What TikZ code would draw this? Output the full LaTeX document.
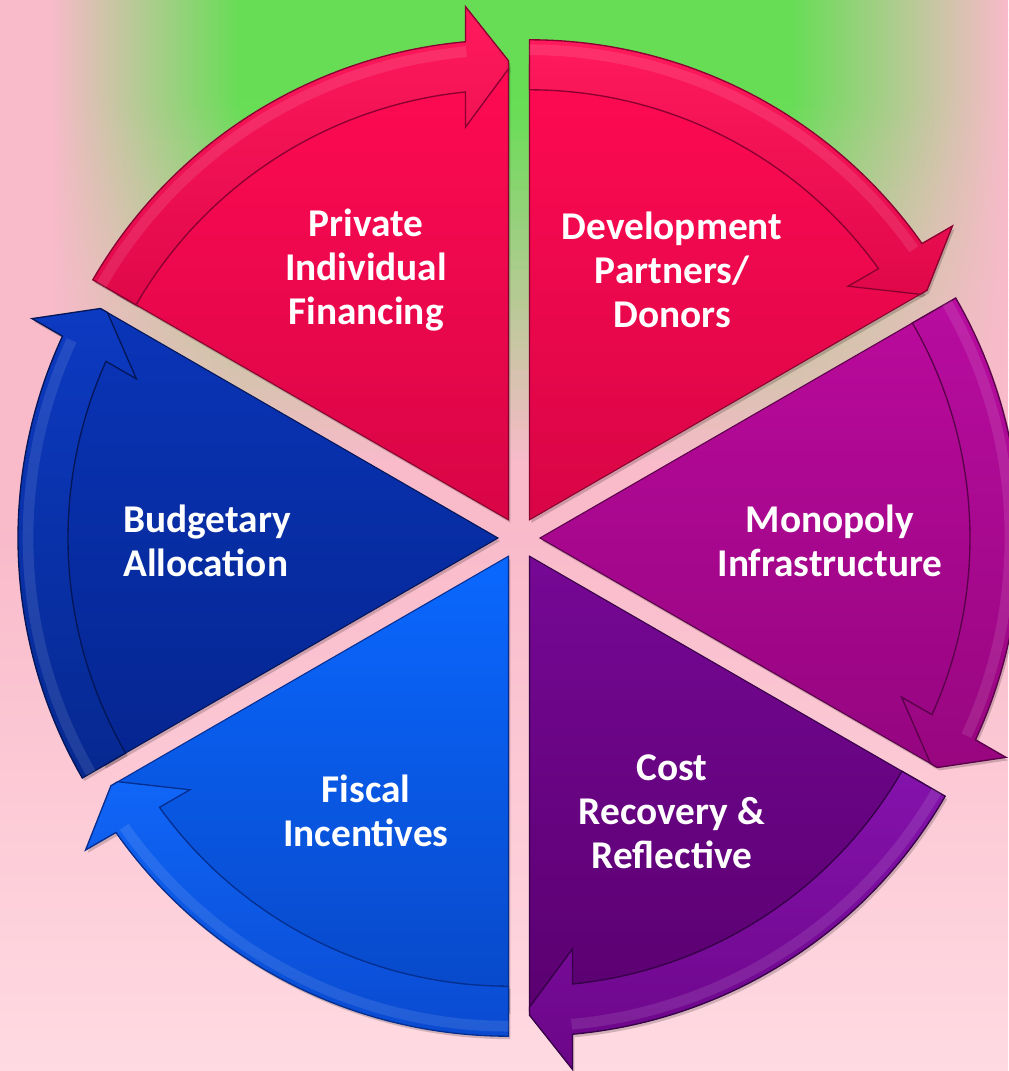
\documentclass[tikz,border=0pt]{standalone}
\usepackage{fontspec}
\setmainfont{Carlito}
\definecolor{grn}{HTML}{66DD55}
\definecolor{pnk}{HTML}{F9BACA}
\definecolor{pnkb}{HTML}{FFDAE2}
\definecolor{redT}{HTML}{FF0A52}\definecolor{redB}{HTML}{D80546}
\definecolor{redBT}{HTML}{FF1A5C}\definecolor{redBB}{HTML}{E0084A}\definecolor{redD}{HTML}{8A0030}
\definecolor{magT}{HTML}{BA0A9C}\definecolor{magB}{HTML}{950580}
\definecolor{magBT}{HTML}{B80CA0}\definecolor{magBB}{HTML}{98067F}\definecolor{magD}{HTML}{5A004A}
\definecolor{purT}{HTML}{760895}\definecolor{purB}{HTML}{5A0070}
\definecolor{purBT}{HTML}{8412AC}\definecolor{purBB}{HTML}{6C0688}\definecolor{purD}{HTML}{360048}
\definecolor{bluT}{HTML}{0A68FF}\definecolor{bluB}{HTML}{0848C8}
\definecolor{bluBT}{HTML}{1066F8}\definecolor{bluBB}{HTML}{0A4AD0}\definecolor{bluD}{HTML}{042E90}
\definecolor{dbuT}{HTML}{0A35B8}\definecolor{dbuB}{HTML}{052590}
\definecolor{dbuBT}{HTML}{0C3AC2}\definecolor{dbuBB}{HTML}{06288F}\definecolor{dbuD}{HTML}{021658}
\tikzset{
  lbl/.style={text=white,font=\bfseries\fontsize{29.5}{33}\selectfont,align=center,inner sep=0pt},
}
\newcommand\bodypath[1]{\path[#1] (0,0) -- (\ps:455) arc[start angle=\ps,end angle=\pe,radius=455] -- cycle;}
\newcommand\arrpath[1]{\path[#1] (\ps:480) arc[start angle=\ps,end angle=\pbo,radius=480] -- (\obx,\oby) -- (\pe:459) -- (\pe:451) -- (\ibx,\iby) -- (\pbi:430) arc[start angle=\pbi,end angle=\ps,radius=430] -- cycle;}
\newcommand\drawsector[4]{% #1 bisector, #2 body prefix, #3 band prefix, #4 dark
  \pgfmathsetmacro\tx{21*cos(#1)}
  \pgfmathsetmacro\ty{21*sin(#1)}
  \pgfmathsetmacro\ps{#1+30}
  \pgfmathsetmacro\pe{#1-30}
  \pgfmathsetmacro\pbo{\pe+5.14}
  \pgfmathsetmacro\pbi{\pe+5.74}
  \pgfmathsetmacro\obx{513.2*cos(\pe)-43*sin(\pe)}
  \pgfmathsetmacro\oby{513.2*sin(\pe)+43*cos(\pe)}
  \pgfmathsetmacro\ibx{392.7*cos(\pe)-43*sin(\pe)}
  \pgfmathsetmacro\iby{392.7*sin(\pe)+43*cos(\pe)}
  \begin{scope}[shift={({\tx+2},{\ty-3})}]
    \bodypath{fill=black,opacity=0.18}
    \arrpath{fill=black,opacity=0.18}
  \end{scope}
  \begin{scope}[shift={(\tx,\ty)}]
    \bodypath{top color=#2T,bottom color=#2B,draw=#4,line width=0.8}
    \arrpath{top color=#3T,bottom color=#3B,draw=#4,line width=1}
    \draw[white,opacity=0.10,line width=8] (\ps:470) arc[start angle=\ps,end angle=\pbo,radius=470];
  \end{scope}
}
\begin{document}
\begin{tikzpicture}[x=0.75pt,y=0.75pt]
\useasboundingbox (-519,-533) rectangle (489,538);
% background
\fill[pnk] (-519,17.5) rectangle (489,538);
\shade[top color=pnk,bottom color=pnkb] (-519,-533) rectangle (489,18);
\foreach \i in {0,...,46}{
  \pgfmathsetmacro\pyy{10*\i}
  \pgfmathtruncatemacro\gf{max(0,min(100,(460-\pyy)/3.6))}
  \colorlet{mixc}{grn!\gf!pnk}
  \pgfmathsetmacro\Yt{538-\pyy}
  \pgfmathsetmacro\Yb{538-\pyy-11}
  \fill[mixc] (-279.5,\Yb) rectangle (271.5,\Yt);
  \shade[left color=pnk,right color=mixc] (-469,\Yb) rectangle (-279,\Yt);
  \shade[left color=mixc,right color=pnk] (271,\Yb) rectangle (489,\Yt);
}
% sectors
\drawsector{120}{red}{redB}{redD}
\drawsector{60}{red}{redB}{redD}
\drawsector{0}{mag}{magB}{magD}
\drawsector{-60}{pur}{purB}{purD}
\drawsector{-120}{blu}{bluB}{bluD}
\drawsector{180}{dbu}{dbuB}{dbuD}
% labels
\node[lbl] (private) at (-153,268) {Private\\Individual\\Financing};
\node[lbl] (devel) at (153,268) {Development\\Partners/\\Donors};
\node[lbl] (mono) at (311,-3) {Monopoly\\Infrastructure};
\node[lbl] (cost) at (153,-274) {Cost\\Recovery \&\\Reflective};
\node[lbl] (fiscal) at (-153,-273) {Fiscal\\Incentives};
\node[lbl,align=left] (budget) at (-312,-3) {Budgetary\\Allocation};
\end{tikzpicture}
\end{document}
